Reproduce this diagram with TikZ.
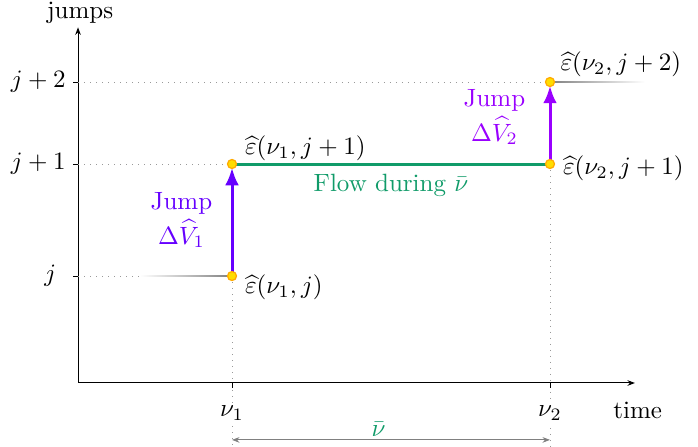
\documentclass[tikz,border=0pt]{standalone}
\usepackage{amsmath}
\usepackage{tikz}
\usetikzlibrary{arrows.meta}

\definecolor{jumpblue}{RGB}{102,0,255}
\definecolor{jumppurple}{RGB}{153,0,255}
\definecolor{flowgreen}{RGB}{16,155,105}
\definecolor{dotyellow}{RGB}{255,221,0}
\definecolor{dotorange}{RGB}{255,170,0}

\begin{document}
\begin{tikzpicture}
    % Jump times and jump levels
    \def\xa{2.165}
    \def\xb{6.636}
    \def\ya{1.504}
    \def\yb{3.079}
    \def\yc{4.232}
    % Style definitions
    \tikzset{
        % dotted guide lines
        guide/.style={gray!80, dotted, line width=0.4pt},
        % points of the solution
        point/.style={circle, fill=dotyellow, draw=dotorange, line width=0.5pt, inner sep=0pt, minimum size=3.6pt},
        % jumps
        jump/.style={#1, line width=1.2pt, shorten >=1.5pt, -{Latex[length=7pt,width=5.5pt]}},
        % flow
        flow/.style={flowgreen, line width=1.2pt},
        % labels of the points
        elabel/.style={anchor=west, inner sep=0pt, xshift=5pt}
    }
    \useasboundingbox (-1.097,-0.886) rectangle (8.717,5.385);

    % Points of the solution
    \coordinate (A) at (\xa,\ya);
    \coordinate (B) at (\xa,\yb);
    \coordinate (C) at (\xb,\yb);
    \coordinate (D) at (\xb,\yc);

    % Axes
    \coordinate (O) at (0,0);
    \coordinate (xend) at (7.83,0);
    \coordinate (yend) at (0,5.0);
    \draw[-{Stealth[length=3pt]}] (O) -- (xend);
    \draw[-{Stealth[length=3pt]}] (O) -- (yend);
    \node (jumps) at (0.03,5.2) {jumps};
    \node (time) at (7.87,-0.39) {time};

    % Guide lines
    \draw[guide] (0,\ya) -- (A);
    \draw[guide] (0,\yb) -- (B);
    \draw[guide] (0,\yc) -- (D);
    \draw[guide] (A) -- (\xa,-0.886);
    \draw[guide] (C) -- (\xb,-0.886);
    \shade[left color=white, right color=gray] (0.87,{\ya-0.01}) rectangle (\xa,{\ya+0.01});
    \shade[left color=gray, right color=white] (\xb,{\yc-0.01}) rectangle (7.97,{\yc+0.01});

    % Ticks
    \foreach \x/\name/\lbl in {\xa/nuA/\nu_1, \xb/nuB/\nu_2}
        \draw (\x,0) -- (\x,-0.07) node[fill=white, inner sep=1pt] (\name) at (\x,-0.42) {$\lbl$};
    \foreach \y/\xx/\name/\lbl in {\ya/-0.39/lvlA/j, \yb/-0.56/lvlB/j+1, \yc/-0.56/lvlC/j+2}
        \draw (-0.07,\y) -- (0,\y) node (\name) at (\xx,\y) {$\lbl$};

    % Flow and jumps
    \draw[flow] (B) -- (C) node[midway, below] (flowlbl) {Flow during $\bar{\nu}$};
    \draw[jump=jumpblue] (A) -- (B) node[midway, left=4pt, align=center] (jumpA) {Jump\\[2pt]$\Delta\widehat{V}_1$};
    \draw[jump=jumppurple] (C) -- (D) node[midway, left=6pt, yshift=2.4pt, align=center] (jumpB) {Jump\\[2pt]$\Delta\widehat{V}_2$};

    % Points
    \foreach \p in {A,B,C,D}
        \node[point] (dot\p) at (\p) {};

    % Labels of the points
    \node[elabel, yshift=-4.4pt] (epsA) at (A) {$\widehat{\varepsilon}(\nu_1,j)$};
    \node[elabel, yshift=6.4pt] (epsB) at (B) {$\widehat{\varepsilon}(\nu_1,j+1)$};
    \node[elabel, yshift=-1.6pt] (epsC) at (C) {$\widehat{\varepsilon}(\nu_2,j+1)$};
    \node[elabel, xshift=-1pt, yshift=7.2pt] (epsD) at (D) {$\widehat{\varepsilon}(\nu_2,j+2)$};

    % Length of the flow interval
    \coordinate (spanA) at (\xa,-0.8);
    \coordinate (spanB) at (\xb,-0.8);
    \draw[gray, {Stealth[length=3pt]}-{Stealth[length=3pt]}] (spanA) -- (spanB) node[midway, above, inner sep=1pt, xshift=-5pt, flowgreen] (nubar) {$\bar{\nu}$};
\end{tikzpicture}
\end{document}
